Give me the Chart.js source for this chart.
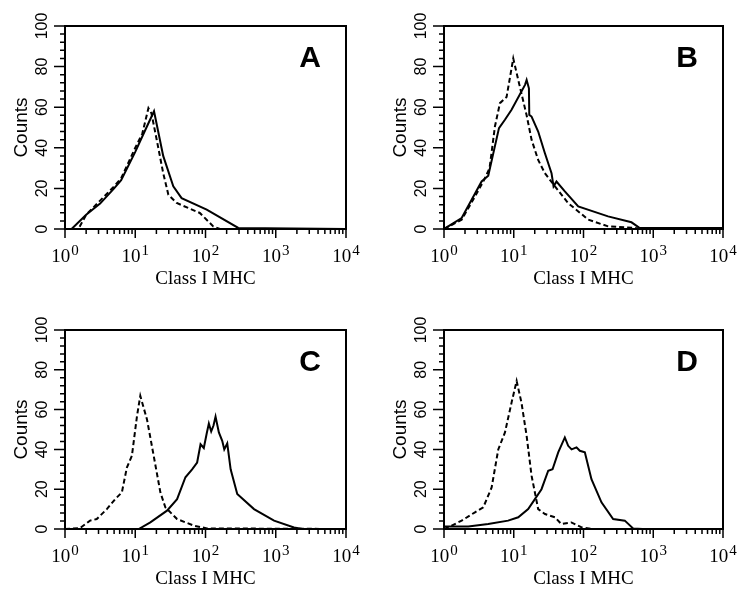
<!DOCTYPE html>
<html>
<head>
<meta charset="utf-8">
<title>Class I MHC histograms</title>
<script src="https://cdn.jsdelivr.net/npm/chart.js@4.4.1/dist/chart.umd.min.js"></script>
<style>
    html, body { margin: 0; padding: 0; background: #fff; }
    #wrap { position: relative; width: 750px; height: 598px; }
    .panel { position: absolute; width: 375px; height: 299px; }
</style>
</head>
<body>
<div id="wrap">
    <div class="panel" style="left:0;top:0"><canvas id="panelA" width="375" height="299"></canvas></div>
    <div class="panel" style="left:375px;top:0"><canvas id="panelB" width="375" height="299"></canvas></div>
    <div class="panel" style="left:0;top:299px"><canvas id="panelC" width="375" height="299"></canvas></div>
    <div class="panel" style="left:375px;top:299px"><canvas id="panelD" width="375" height="299"></canvas></div>
</div>
<script>
// Axis ticks and titles
const xDecades = [1, 10, 100, 1000, 10000];
const xExponents = ['0', '1', '2', '3', '4'];
const yTicks = [0, 20, 40, 60, 80, 100];
const yMinorStep = 4;
const xTitle = 'Class I MHC';
const yTitle = 'Counts';

// Panel A
const aSolidX = [1, 1.24, 2, 3.16, 5, 6.3, 10, 14, 18.5, 25, 34.8, 45.7, 104, 293, 10000];
const aSolidY = [0, 0, 7, 12.5, 20, 24, 38, 49, 58, 36, 21, 15.2, 9.5, 0.5, 0];
const aDashX = [1, 1.55, 2, 3.16, 5, 6.3, 10, 12.6, 15.4, 17, 20.2, 25, 29.6, 38.9, 83, 129, 160, 10000];
const aDashY = [0, 0, 7, 14, 21, 25, 40, 47, 59.5, 57, 44, 27.5, 16.9, 12.8, 7.9, 1.3, 0, 0];

// Panel B
const bSolidX = [1, 1.79, 2.49, 3.46, 4.31, 6.14, 7.47, 9.3, 14.5, 15.3, 16.5, 16.7, 18, 22.4, 27.9, 34.8, 37.2, 41, 54, 84, 225, 487, 641, 10000];
const bSolidY = [0, 5.4, 14.4, 23.4, 26.2, 49.7, 53.8, 58.7, 71, 73.4, 69.3, 56.2, 55.4, 48, 37.4, 27.5, 21, 23.4, 18.5, 11.1, 6.2, 3.3, 0.5, 0.5];
const bDashX = [1, 1.79, 2.78, 3.66, 4.5, 5.37, 6.34, 7.89, 9.84, 11.6, 15.3, 18, 22.4, 27.9, 39, 60, 117, 225, 537, 700, 10000];
const bDashY = [0, 4.6, 16, 23.4, 30, 50.5, 62, 65, 84, 73.4, 56, 44, 34, 27.5, 21, 12.8, 4.6, 1.3, 0.5, 0, 0];

// Panel C
const cSolidX = [1, 11.2, 16.4, 28.3, 39.4, 51.8, 64.5, 76, 85, 94.6, 104, 111.6, 120.5, 130, 139, 155, 173, 185, 204, 228, 283, 490, 946, 1820, 2400, 10000];
const cSolidY = [0, 0, 3.3, 9.2, 15, 26, 30, 33.4, 42.6, 40.7, 48, 53, 49, 52, 56.5, 48.5, 44.3, 40, 43, 30, 17.6, 10, 4.2, 0.8, 0, 0];
const cDashX = [1, 1.64, 2.27, 2.83, 3.94, 5.18, 6.45, 7.6, 8.96, 10.6, 11.8, 14.7, 18.3, 22.8, 26.8, 39.4, 68, 105, 10000];
const cDashY = [0, 0.5, 4.2, 5, 10, 15, 18.4, 30.9, 36.8, 56.9, 66.9, 55, 36.8, 18.4, 10.9, 5, 1.7, 0.3, 0];

// Panel D
const dSolidX = [1, 2.23, 4.3, 8.3, 11.6, 16.1, 20.1, 25, 31.2, 36, 43.4, 54, 60.3, 67.5, 79.4, 88.6, 104.5, 130, 181, 266, 391, 514, 700, 10000];
const dSolidY = [1.3, 1.2, 2.5, 4.2, 5.9, 10, 15, 20, 29.3, 30, 38.5, 46, 41.8, 40, 41, 39.3, 38.5, 25, 13.4, 5, 4.2, 0.3, 0, 0];
const dDashX = [1, 1.29, 1.79, 2.78, 3.66, 4.82, 6, 7.48, 9.3, 11, 12.9, 15.3, 18, 22.4, 28, 39, 48, 67, 94, 130, 10000];
const dDashY = [0, 1.7, 4.2, 8.4, 10.9, 20.9, 40, 48.5, 63.5, 74.4, 63.5, 46.8, 26.8, 10, 7.5, 5.9, 2.5, 3.3, 0.8, 0, 0];

const SERIF = '"Liberation Serif", "DejaVu Serif", serif';
const SANS = '"Liberation Sans", Arial, sans-serif';

function toPoints(xs, ys) {
    return xs.map((x, i) => ({ x: x, y: ys[i] }));
}

// Frame, ticks, labels and panel letter drawn from the chart's own scales
const panelAxes = {
    id: 'panelAxes',
    afterDraw(chart, args, opts) {
        const ctx = chart.ctx;
        const area = chart.chartArea;
        const xs = chart.scales.x;
        const ys = chart.scales.y;
        ctx.save();
        ctx.strokeStyle = '#000';
        ctx.fillStyle = '#000';

        ctx.lineWidth = 2;
        ctx.strokeRect(area.left, area.top, area.right - area.left, area.bottom - area.top);

        // x ticks
        ctx.lineWidth = 1.5;
        ctx.beginPath();
        xDecades.forEach((d, i) => {
            const px = xs.getPixelForValue(d);
            ctx.moveTo(px, area.bottom);
            ctx.lineTo(px, area.bottom + 9);
            if (i < xDecades.length - 1) {
                for (let m = 2; m <= 9; m++) {
                    const mx = xs.getPixelForValue(d * m);
                    ctx.moveTo(mx, area.bottom);
                    ctx.lineTo(mx, area.bottom + 5);
                }
            }
        });
        // y ticks
        for (let v = yTicks[0]; v <= yTicks[yTicks.length - 1]; v += yMinorStep) {
            const py = ys.getPixelForValue(v);
            const len = yTicks.includes(v) ? 11 : 5;
            ctx.moveTo(area.left, py);
            ctx.lineTo(area.left - len, py);
        }
        ctx.stroke();

        // x tick labels: 10 with superscript exponent
        xDecades.forEach((d, i) => {
            const px = xs.getPixelForValue(d);
            ctx.font = '19px ' + SERIF;
            const wBase = ctx.measureText('10').width;
            ctx.font = '15px ' + SERIF;
            const wExp = ctx.measureText(xExponents[i]).width;
            const start = px - (wBase + 1 + wExp) / 2;
            ctx.textAlign = 'left';
            ctx.textBaseline = 'alphabetic';
            ctx.font = '19px ' + SERIF;
            ctx.fillText('10', start, area.bottom + 33);
            ctx.font = '15px ' + SERIF;
            ctx.fillText(xExponents[i], start + wBase + 1, area.bottom + 26);
        });

        // x title
        ctx.font = '19px ' + SERIF;
        ctx.textAlign = 'center';
        ctx.fillText(xTitle, (area.left + area.right) / 2, area.bottom + 55);

        // y tick labels, rotated
        ctx.font = '16px ' + SANS;
        yTicks.forEach(v => {
            const py = ys.getPixelForValue(v);
            ctx.save();
            ctx.translate(area.left - 18, py);
            ctx.rotate(-Math.PI / 2);
            ctx.textAlign = 'center';
            ctx.fillText(String(v), 0, 0);
            ctx.restore();
        });

        // y title
        ctx.save();
        ctx.font = '19px ' + SANS;
        ctx.translate(area.left - 38, (area.top + area.bottom) / 2);
        ctx.rotate(-Math.PI / 2);
        ctx.textAlign = 'center';
        ctx.fillText(yTitle, 0, 0);
        ctx.restore();

        // panel letter
        ctx.font = 'bold 30px ' + SANS;
        ctx.textAlign = 'right';
        ctx.fillText(opts.letter, area.right - 25, area.top + 41);

        ctx.restore();
    }
};

function makePanel(id, letter, solidX, solidY, dashX, dashY, pad) {
    new Chart(document.getElementById(id), {
        type: 'line',
        data: {
            datasets: [{
                label: 'Class I MHC',
                data: toPoints(solidX, solidY),
                borderColor: '#000',
                borderWidth: 2,
                pointRadius: 0,
                tension: 0,
                fill: false
            }, {
                label: 'Control',
                data: toPoints(dashX, dashY),
                borderColor: '#000',
                borderWidth: 2,
                borderDash: [5, 3],
                pointRadius: 0,
                tension: 0,
                fill: false
            }]
        },
        options: {
            responsive: false,
            animation: false,
            devicePixelRatio: 1,
            layout: { padding: pad },
            scales: {
                x: { type: 'logarithmic', min: 1, max: 10000, display: false },
                y: { type: 'linear', min: 0, max: 100, display: false }
            },
            plugins: {
                legend: { display: false },
                tooltip: { enabled: false },
                panelAxes: { letter: letter }
            }
        },
        plugins: [panelAxes]
    });
}

document.addEventListener('DOMContentLoaded', () => {
    makePanel('panelA', 'A', aSolidX, aSolidY, aDashX, aDashY, { left: 65, right: 29, top: 26, bottom: 70 });
    makePanel('panelB', 'B', bSolidX, bSolidY, bDashX, bDashY, { left: 69, right: 27, top: 26, bottom: 70 });
    makePanel('panelC', 'C', cSolidX, cSolidY, cDashX, cDashY, { left: 65, right: 29, top: 31, bottom: 69 });
    makePanel('panelD', 'D', dSolidX, dSolidY, dDashX, dDashY, { left: 69, right: 27, top: 31, bottom: 69 });
});
</script>
</body>
</html>
